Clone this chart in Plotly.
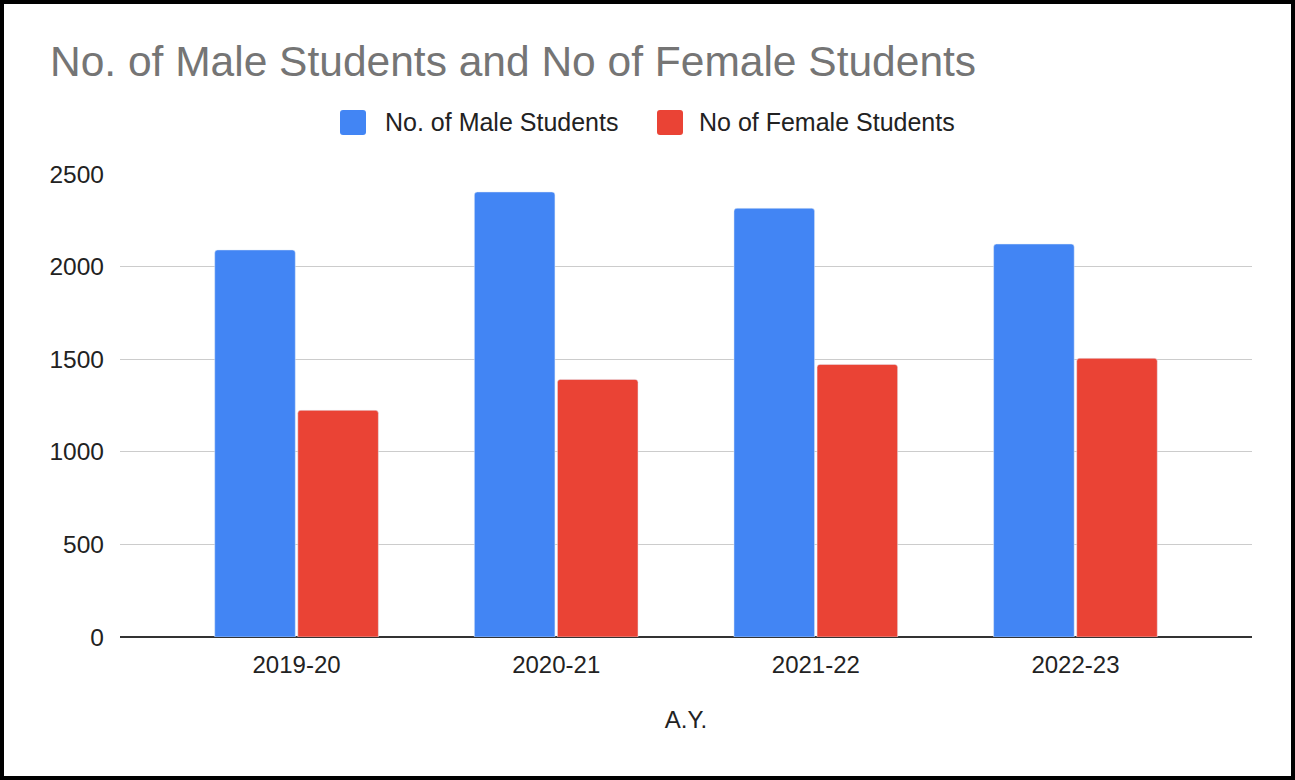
import plotly.graph_objects as go

years = ["2019-20", "2020-21", "2021-22", "2022-23"]
male = [2090, 2403, 2315, 2122]
female = [1224, 1391, 1472, 1505]
series_names = ["No. of Male Students", "No of Female Students"]
series_colors = ["#4285F4", "#EA4335"]
y_ticks = [0, 500, 1000, 1500, 2000, 2500]

W, H = 1295, 780
L, R, T, B = 120, 43, 174, 143
pw, ph = W - L - R, H - T - B

FONT = "Liberation Sans, Arial, sans-serif"


def px_x(p):
    return (p - L) / pw


def px_y(p):
    return (H - B - p) / ph


fig = go.Figure()
for vals, name, col in zip([male, female], series_names, series_colors):
    fig.add_trace(go.Bar(x=years, y=vals, name=name, marker_color=col,
                         showlegend=False))

# custom legend (large rounded squares like the reference)
legend_sq_x = [340, 657]
legend_txt_x = [383, 697]
shapes = []
annotations = []
for sx, tx, name, col in zip(legend_sq_x, legend_txt_x, series_names, series_colors):
    x0, x1, y0, y1 = sx, sx + 26, 110, 135
    r = 3
    path = (f"M {x0 + r},{y0} L {x1 - r},{y0} Q {x1},{y0} {x1},{y0 + r} "
            f"L {x1},{y1 - r} Q {x1},{y1} {x1 - r},{y1} L {x0 + r},{y1} "
            f"Q {x0},{y1} {x0},{y1 - r} L {x0},{y0 + r} Q {x0},{y0} {x0 + r},{y0} Z")
    shapes.append(dict(type="path", xref="paper", yref="paper",
                       path=" ".join(
                           tok if tok.isalpha() else
                           f"{px_x(float(tok.split(',')[0]))},{px_y(float(tok.split(',')[1]))}"
                           for tok in path.split()),
                       line=dict(width=0), fillcolor=col, layer="above"))
    annotations.append(dict(text=name, xref="paper", yref="paper",
                            x=px_x(tx), y=px_y(122), xanchor="left", yanchor="middle",
                            showarrow=False, font=dict(size=25, color="#222", family=FONT)))

shapes.append(dict(type="rect", xref="paper", yref="paper",
                   x0=px_x(2), x1=px_x(W - 2), y0=px_y(H - 2), y1=px_y(2),
                   line=dict(color="black", width=4), fillcolor="rgba(0,0,0,0)",
                   layer="above"))

fig.update_layout(
    width=W, height=H,
    margin=dict(l=L, r=R, t=T, b=B, autoexpand=False),
    paper_bgcolor="white", plot_bgcolor="white",
    font=dict(family=FONT, size=24, color="#222"),
    barmode="group", bargap=0.36, bargroupgap=0.03, barcornerradius=3,
    showlegend=False,
    title=dict(text="No. of Male Students and No of Female Students",
               x=50 / W, xanchor="left", xref="container",
               y=1 - 61 / H, yanchor="middle", yref="container",
               font=dict(size=42.5, color="#757575", family=FONT)),
    xaxis=dict(type="category", range=[-0.68, 3.68], showgrid=False,
               showline=False, ticks="", ticklabelstandoff=11,
               tickfont=dict(size=24, color="#222"),
               title=dict(text="A.Y.", standoff=34, font=dict(size=24, color="#222"))),
    yaxis=dict(range=[0, 2500], tickvals=y_ticks, showgrid=True,
               gridcolor="#cccccc", gridwidth=1, zeroline=True,
               zerolinecolor="#333333", zerolinewidth=2,
               ticks="", ticklabelstandoff=15,
               tickfont=dict(size=24.5, color="#222")),
    shapes=shapes,
    annotations=annotations,
)

fig.write_html("out.html", config={"displayModeBar": False},
               post_script="document.body.style.margin='0px';")
